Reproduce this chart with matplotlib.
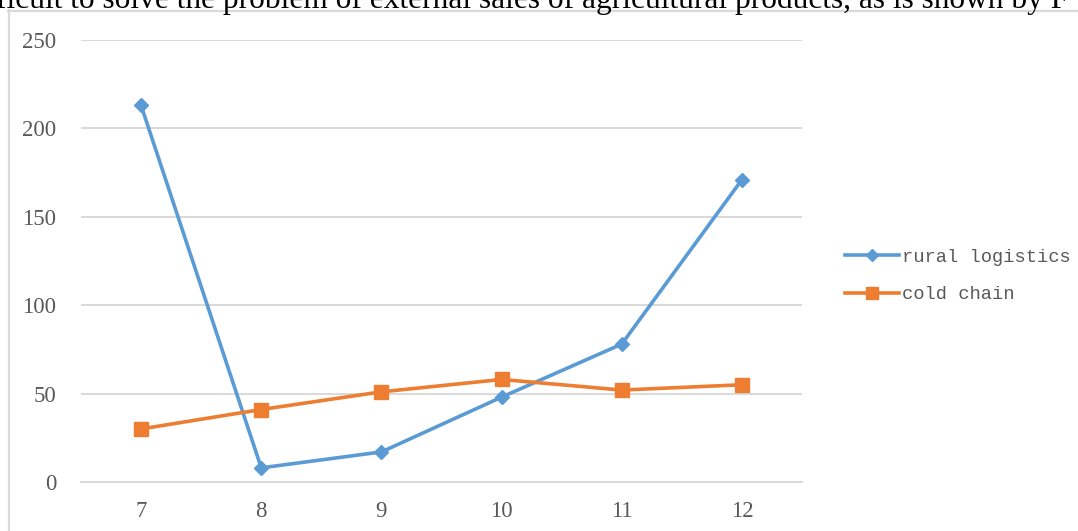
import matplotlib
matplotlib.use("Agg")
import matplotlib.pyplot as plt
from matplotlib.lines import Line2D

# Monthly counts for the two logistics categories
months = [7, 8, 9, 10, 11, 12]
rural_logistics = [213, 8, 17, 48, 78, 171]
cold_chain = [30, 41, 51, 58, 52, 55]
y_ticks = [0, 50, 100, 150, 200, 250]
series_names = ["rural logistics", "cold chain"]
caption = "ficult to solve the problem of external sales of agricultural products, as is shown by F"

W, H, DPI = 1078, 531, 100
BLUE = "#5B9BD5"
ORANGE = "#ED7D31"
GRID = "#D9D9D9"
TEXT = "#595959"

fig = plt.figure(figsize=(W / DPI, H / DPI), dpi=DPI)
fig.patch.set_facecolor("white")

def fx(px):
    return px / W

def fy(py):
    return 1 - py / H

ax = fig.add_axes([fx(81), fy(482), fx(802) - fx(81), fy(40) - fy(482)])

ax.plot(months, rural_logistics, color=BLUE, lw=2.6, marker="D", ms=7.2,
        label=series_names[0], solid_joinstyle="round", zorder=3)
ax.plot(months, cold_chain, color=ORANGE, lw=2.6, marker="s", ms=9.5,
        label=series_names[1], solid_joinstyle="round", zorder=3)

ax.set_xlim(months[0] - 0.5, months[-1] + 0.5)
ax.set_ylim(y_ticks[0], y_ticks[-1])
ax.set_xticks(months)
ax.set_xticklabels([str(m) for m in months])
ax.set_yticks(y_ticks)
ax.set_yticklabels([str(v) for v in y_ticks])

ax.yaxis.grid(True, color=GRID, lw=1.4)
ax.set_axisbelow(True)
for s in ("top", "right", "left"):
    ax.spines[s].set_visible(False)
ax.spines["bottom"].set_color(GRID)
ax.spines["bottom"].set_linewidth(1.4)
ax.tick_params(axis="both", length=0, colors=TEXT, labelsize=16.5)
ax.tick_params(axis="y", pad=18)
ax.tick_params(axis="x", pad=14)
for lbl in ax.get_xticklabels() + ax.get_yticklabels():
    lbl.set_fontfamily("Liberation Serif")

leg = ax.legend(loc="center left", bbox_to_anchor=(fx(828), fy(276)),
                bbox_transform=fig.transFigure, frameon=False,
                prop={"family": "Liberation Mono", "size": 13.5},
                handlelength=2.9, handletextpad=0.15, labelspacing=1.1,
                markerscale=0.85)
for t in leg.get_texts():
    t.set_color(TEXT)

# Chart area border (top and left edges)
fig.add_artist(Line2D([fx(8.5), fx(8.5)], [fy(10), 0], color=GRID, lw=1.6,
                      transform=fig.transFigure))
fig.add_artist(Line2D([fx(8), 1], [fy(10.5), fy(10.5)], color=GRID, lw=1.6,
                      transform=fig.transFigure))

# Caption line of the surrounding text, running off the top edge
fig.text(fx(-4), fy(8), caption, family="Liberation Serif", fontsize=22.6,
         color="black", va="baseline", ha="left")

fig.savefig("out.png", dpi=DPI, facecolor="white")
